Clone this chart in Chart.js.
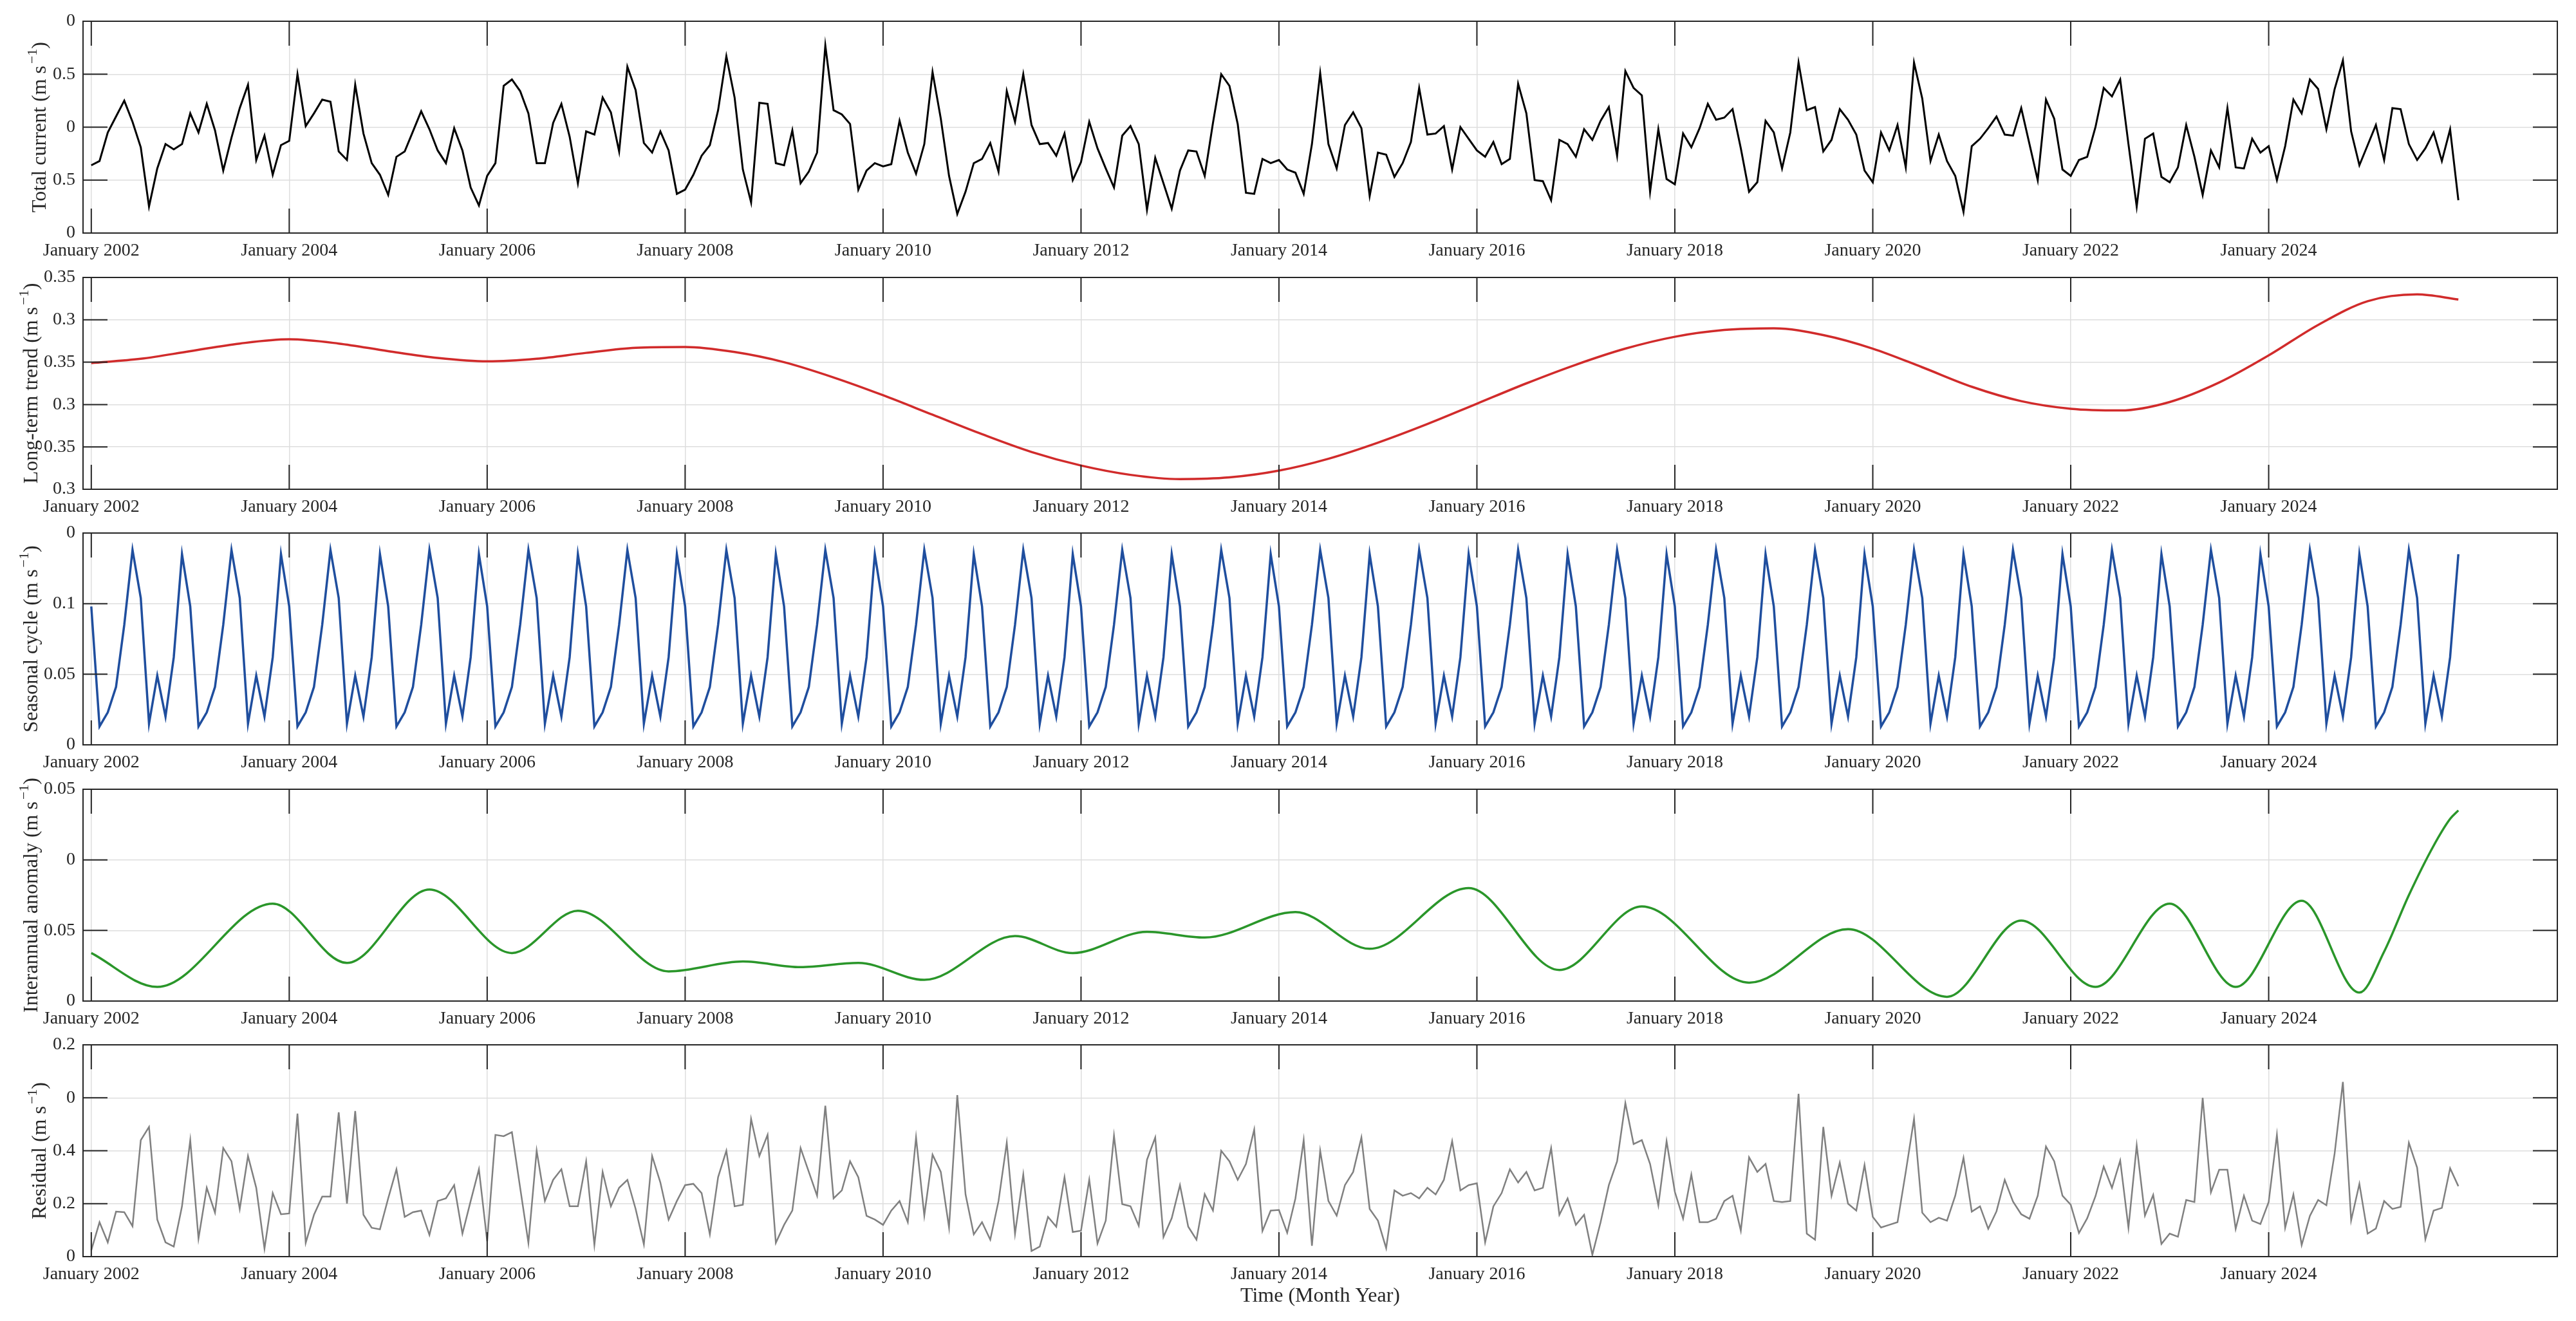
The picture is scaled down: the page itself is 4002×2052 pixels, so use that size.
<!DOCTYPE html>
<html>
<head>
<meta charset="utf-8">
<title>Current decomposition</title>
<script src="https://cdn.jsdelivr.net/npm/chart.js@4.4.1/dist/chart.umd.min.js"></script>
<style>
  html, body { margin: 0; padding: 0; background: #fff; overflow: hidden; }
  #wrap { position: relative; width: 4002px; height: 2052px; }
  canvas { position: absolute; left: 0; }
</style>
</head>
<body>
<div id="wrap">
  <canvas id="c1"></canvas>
  <canvas id="c2"></canvas>
  <canvas id="c3"></canvas>
  <canvas id="c4"></canvas>
  <canvas id="c5"></canvas>
</div>
<script>
// x axis = months since January 2002 (monthly data, Jan 2002 .. Dec 2025)
const xTickMonths = [0, 24, 48, 72, 96, 120, 144, 168, 192, 216, 240, 264];
const xTickLabels = ['January 2002', 'January 2004', 'January 2006', 'January 2008', 'January 2010', 'January 2012',
                     'January 2014', 'January 2016', 'January 2018', 'January 2020', 'January 2022', 'January 2024'];

// total current, one value per month
const currentValues = [
  -0.36,-0.32,-0.05,0.10,0.25,0.05,-0.19,-0.75,-0.39,-0.16,-0.21,-0.16,
  0.13,-0.05,0.22,-0.03,-0.41,-0.10,0.18,0.40,-0.31,-0.08,-0.45,-0.17,
  -0.13,0.50,0.01,0.13,0.26,0.24,-0.23,-0.31,0.40,-0.06,-0.34,-0.45,
  -0.64,-0.28,-0.23,-0.04,0.15,-0.02,-0.22,-0.34,-0.01,-0.22,-0.57,-0.74,
  -0.46,-0.34,0.39,0.45,0.34,0.13,-0.34,-0.34,0.04,0.22,-0.09,-0.53,
  -0.04,-0.07,0.28,0.14,-0.23,0.57,0.35,-0.15,-0.24,-0.04,-0.22,-0.63,
  -0.59,-0.45,-0.27,-0.17,0.16,0.67,0.28,-0.40,-0.71,0.23,0.22,-0.34,
  -0.36,-0.03,-0.53,-0.42,-0.24,0.77,0.16,0.12,0.03,-0.59,-0.41,-0.34,
  -0.37,-0.35,0.06,-0.24,-0.44,-0.16,0.52,0.08,-0.46,-0.82,-0.61,-0.34,
  -0.30,-0.15,-0.42,0.34,0.05,0.50,0.02,-0.16,-0.15,-0.27,-0.06,-0.50,
  -0.33,0.05,-0.20,-0.39,-0.57,-0.08,0.01,-0.16,-0.78,-0.29,-0.53,-0.77,
  -0.41,-0.22,-0.23,-0.46,0.04,0.50,0.39,0.03,-0.62,-0.63,-0.30,-0.34,
  -0.31,-0.40,-0.43,-0.63,-0.16,0.51,-0.16,-0.39,0.02,0.14,-0.01,-0.65,
  -0.24,-0.26,-0.47,-0.34,-0.14,0.37,-0.07,-0.06,0.01,-0.40,0.00,-0.11,
  -0.22,-0.28,-0.14,-0.35,-0.30,0.41,0.13,-0.50,-0.51,-0.69,-0.12,-0.16,
  -0.28,-0.02,-0.12,0.06,0.19,-0.27,0.53,0.37,0.30,-0.61,-0.02,-0.49,
  -0.54,-0.06,-0.19,-0.01,0.22,0.07,0.09,0.17,-0.20,-0.61,-0.52,0.06,
  -0.05,-0.39,-0.05,0.61,0.16,0.19,-0.23,-0.12,0.17,0.07,-0.07,-0.41,
  -0.52,-0.05,-0.22,0.02,-0.38,0.61,0.27,-0.32,-0.07,-0.32,-0.46,-0.80,
  -0.18,-0.11,-0.01,0.10,-0.07,-0.08,0.18,-0.16,-0.50,0.26,0.08,-0.40,
  -0.46,-0.31,-0.28,0.00,0.37,0.29,0.45,-0.16,-0.75,-0.11,-0.06,-0.47,
  -0.52,-0.38,0.02,-0.28,-0.64,-0.22,-0.38,0.18,-0.38,-0.39,-0.11,-0.24,
  -0.18,-0.50,-0.18,0.26,0.13,0.45,0.36,-0.02,0.36,0.63,-0.04,-0.36,
  -0.17,0.02,-0.31,0.18,0.17,-0.16,-0.31,-0.20,-0.05,-0.32,-0.02,-0.69
];

// long-term trend, read every six months
const trendMonths = [0,6,12,18,24,30,36,42,48,54,60,66,72,78,84,90,96,102,108,114,120,126,132,138,
                     144,150,156,162,168,174,180,186,192,198,204,210,216,222,228,234,240,246,252,258,264,270,276,282,287];
const trendValues = [0.249,0.254,0.263,0.272,0.277,0.272,0.263,0.255,0.251,0.254,0.261,0.267,0.268,0.262,0.250,0.232,
                     0.211,0.188,0.165,0.144,0.128,0.117,0.112,0.114,0.122,0.136,0.155,0.177,0.201,0.225,0.247,0.266,
                     0.280,0.288,0.290,0.282,0.266,0.244,0.221,0.204,0.195,0.193,0.203,0.226,0.258,0.294,0.322,0.330,0.324];

// seasonal cycle, one value per month
const seasonalValues = [
  0.098,0.013,0.023,0.041,0.085,0.138,0.104,0.015,0.049,0.020,0.062,0.135,
  0.098,0.013,0.023,0.041,0.085,0.138,0.104,0.015,0.049,0.020,0.062,0.135,
  0.098,0.013,0.023,0.041,0.085,0.138,0.104,0.015,0.049,0.020,0.062,0.135,
  0.098,0.013,0.023,0.041,0.085,0.138,0.104,0.015,0.049,0.020,0.062,0.135,
  0.098,0.013,0.023,0.041,0.085,0.138,0.104,0.015,0.049,0.020,0.062,0.135,
  0.098,0.013,0.023,0.041,0.085,0.138,0.104,0.015,0.049,0.020,0.062,0.135,
  0.098,0.013,0.023,0.041,0.085,0.138,0.104,0.015,0.049,0.020,0.062,0.135,
  0.098,0.013,0.023,0.041,0.085,0.138,0.104,0.015,0.049,0.020,0.062,0.135,
  0.098,0.013,0.023,0.041,0.085,0.138,0.104,0.015,0.049,0.020,0.062,0.135,
  0.098,0.013,0.023,0.041,0.085,0.138,0.104,0.015,0.049,0.020,0.062,0.135,
  0.098,0.013,0.023,0.041,0.085,0.138,0.104,0.015,0.049,0.020,0.062,0.135,
  0.098,0.013,0.023,0.041,0.085,0.138,0.104,0.015,0.049,0.020,0.062,0.135,
  0.098,0.013,0.023,0.041,0.085,0.138,0.104,0.015,0.049,0.020,0.062,0.135,
  0.098,0.013,0.023,0.041,0.085,0.138,0.104,0.015,0.049,0.020,0.062,0.135,
  0.098,0.013,0.023,0.041,0.085,0.138,0.104,0.015,0.049,0.020,0.062,0.135,
  0.098,0.013,0.023,0.041,0.085,0.138,0.104,0.015,0.049,0.020,0.062,0.135,
  0.098,0.013,0.023,0.041,0.085,0.138,0.104,0.015,0.049,0.020,0.062,0.135,
  0.098,0.013,0.023,0.041,0.085,0.138,0.104,0.015,0.049,0.020,0.062,0.135,
  0.098,0.013,0.023,0.041,0.085,0.138,0.104,0.015,0.049,0.020,0.062,0.135,
  0.098,0.013,0.023,0.041,0.085,0.138,0.104,0.015,0.049,0.020,0.062,0.135,
  0.098,0.013,0.023,0.041,0.085,0.138,0.104,0.015,0.049,0.020,0.062,0.135,
  0.098,0.013,0.023,0.041,0.085,0.138,0.104,0.015,0.049,0.020,0.062,0.135,
  0.098,0.013,0.023,0.041,0.085,0.138,0.104,0.015,0.049,0.020,0.062,0.135,
  0.098,0.013,0.023,0.041,0.085,0.138,0.104,0.015,0.049,0.020,0.062,0.135
];

// interannual anomaly, read at turning points (month index, value)
const anomalyMonths = [0,8,22,31,41,51,59,70,79,86,93,101,112,119,128,135,146,155,167,178,188,201,213,225,234,243,252,260,268,275,278,281,284,286,287];
const anomalyValues = [-0.066,-0.090,-0.031,-0.073,-0.021,-0.066,-0.036,-0.079,-0.072,-0.076,-0.073,-0.085,-0.054,-0.066,
                       -0.051,-0.055,-0.037,-0.063,-0.020,-0.078,-0.033,-0.087,-0.049,-0.097,-0.043,-0.090,-0.031,-0.090,
                       -0.029,-0.094,-0.065,-0.025,0.010,0.029,0.035];

// residual, one value per month
const residualValues = [
  0.024,0.13,0.054,0.17,0.168,0.115,0.44,0.49,0.14,0.054,0.038,0.19,
  0.44,0.068,0.26,0.166,0.41,0.36,0.18,0.38,0.26,0.03,0.24,0.16,
  0.163,0.54,0.052,0.158,0.227,0.227,0.545,0.20,0.55,0.158,0.109,0.103,
  0.22,0.33,0.15,0.168,0.174,0.082,0.21,0.22,0.27,0.087,0.21,0.33,
  0.058,0.46,0.455,0.47,0.26,0.052,0.40,0.21,0.29,0.33,0.19,0.19,
  0.36,0.044,0.32,0.19,0.26,0.29,0.18,0.046,0.38,0.28,0.14,0.21,
  0.27,0.275,0.24,0.084,0.30,0.40,0.19,0.196,0.52,0.38,0.46,0.052,
  0.12,0.174,0.41,0.32,0.23,0.57,0.22,0.25,0.36,0.30,0.154,0.14,
  0.12,0.174,0.21,0.13,0.45,0.155,0.385,0.32,0.11,0.61,0.235,0.084,
  0.13,0.064,0.21,0.43,0.086,0.31,0.021,0.038,0.15,0.113,0.30,0.093,
  0.098,0.29,0.05,0.136,0.457,0.198,0.19,0.117,0.366,0.45,0.074,0.145,
  0.27,0.113,0.064,0.236,0.174,0.40,0.36,0.29,0.35,0.48,0.097,0.174,
  0.176,0.09,0.22,0.44,0.041,0.40,0.21,0.155,0.27,0.32,0.45,0.18,
  0.136,0.032,0.25,0.23,0.24,0.22,0.26,0.235,0.29,0.436,0.25,0.27,
  0.277,0.054,0.19,0.24,0.33,0.28,0.32,0.25,0.26,0.41,0.158,0.22,
  0.12,0.158,0.007,0.13,0.27,0.36,0.58,0.425,0.44,0.35,0.194,0.436,
  0.245,0.144,0.31,0.13,0.13,0.143,0.21,0.23,0.098,0.375,0.32,0.35,
  0.21,0.206,0.21,0.615,0.087,0.064,0.49,0.23,0.355,0.20,0.174,0.346,
  0.15,0.11,0.12,0.13,0.32,0.52,0.166,0.13,0.147,0.136,0.23,0.373,
  0.17,0.19,0.105,0.171,0.29,0.208,0.16,0.143,0.23,0.416,0.36,0.23,
  0.196,0.089,0.145,0.228,0.34,0.26,0.363,0.109,0.42,0.155,0.233,0.048,
  0.087,0.075,0.214,0.206,0.60,0.243,0.328,0.328,0.105,0.23,0.136,0.123,
  0.206,0.46,0.109,0.235,0.044,0.154,0.214,0.194,0.39,0.66,0.137,0.275,
  0.087,0.106,0.21,0.18,0.188,0.43,0.336,0.066,0.174,0.184,0.334,0.266
];

// y ticks and the tick texts as printed on the figure
const currentTicks = [-1, -0.5, 0, 0.5, 1];
const currentTickLabels = ['0', '0.5', '0', '0.5', '0'];
const trendTicks = [0.10, 0.15, 0.20, 0.25, 0.30, 0.35];
const trendTickLabels = ['0.3', '0.35', '0.3', '0.35', '0.3', '0.35'];
const seasonalTicks = [0, 0.05, 0.1, 0.15];
const seasonalTickLabels = ['0', '0.05', '0.1', '0'];
const anomalyTicks = [-0.1, -0.05, 0, 0.05];
const anomalyTickLabels = ['0', '0.05', '0', '0.05'];
const residualTicks = [0, 0.2, 0.4, 0.6, 0.8];
const residualTickLabels = ['0', '0.2', '0.4', '0', '0.2'];

const FONT = "'Liberation Serif', 'Times New Roman', Times, serif";
const AXIS_COLOR = '#262626';
const GRID_COLOR = '#dedede';
const PLOT_LEFT = 129, PLOT_RIGHT = 3973, PLOT_H = 329, TOP_PAD = 30, TICK_LEN = 38;

Chart.defaults.font.family = FONT;
Chart.defaults.color = AXIS_COLOR;

function byMonth(values) {
  return values.map((v, i) => ({ x: i, y: v }));
}
function pairs(months, values) {
  return months.map((m, i) => ({ x: m, y: values[i] }));
}

// box, inward ticks (matlab look) and the y title with a superscript unit
const matlabAxes = {
  id: 'matlabAxes',
  afterDraw(chart, args, opts) {
    const { ctx, chartArea: a } = chart;
    const xs = chart.scales.x, ys = chart.scales.y;
    ctx.save();
    ctx.strokeStyle = AXIS_COLOR;
    ctx.lineWidth = 2;
    ctx.beginPath();
    xs.ticks.forEach((t, i) => {
      const px = xs.getPixelForTick(i);
      ctx.moveTo(px, a.bottom); ctx.lineTo(px, a.bottom - TICK_LEN);
      ctx.moveTo(px, a.top); ctx.lineTo(px, a.top + TICK_LEN);
    });
    ys.ticks.forEach((t, i) => {
      const py = ys.getPixelForTick(i);
      ctx.moveTo(a.left, py); ctx.lineTo(a.left + TICK_LEN, py);
      ctx.moveTo(a.right, py); ctx.lineTo(a.right - TICK_LEN, py);
    });
    ctx.stroke();
    ctx.strokeRect(a.left, a.top, a.right - a.left, a.bottom - a.top);

    ctx.translate(opts.baseX, (a.top + a.bottom) / 2);
    ctx.rotate(-Math.PI / 2);
    ctx.fillStyle = AXIS_COLOR;
    ctx.textBaseline = 'alphabetic';
    ctx.textAlign = 'left';
    const mainFont = '32px ' + FONT, supFont = '22px ' + FONT;
    ctx.font = mainFont;
    const w1 = ctx.measureText(opts.title).width;
    const w3 = ctx.measureText(')').width;
    ctx.font = supFont;
    const w2 = ctx.measureText('\u22121').width;
    const gap = 3;
    const u = -(w1 + gap + w2 + w3) / 2;
    ctx.font = mainFont;
    ctx.fillText(opts.title, u, 0);
    ctx.font = supFont;
    ctx.fillText('\u22121', u + w1 + gap, -14);
    ctx.font = mainFont;
    ctx.fillText(')', u + w1 + gap + w2, 0);
    ctx.restore();
  }
};

function makePanel(p) {
  const canvas = document.getElementById(p.id);
  canvas.width = 4002;
  canvas.height = p.height;
  canvas.style.width = '4002px';
  canvas.style.height = p.height + 'px';
  canvas.style.top = (p.top - TOP_PAD) + 'px';

  new Chart(canvas, {
    type: 'line',
    data: {
      datasets: [{
        data: p.points,
        borderColor: p.color,
        borderWidth: p.lineWidth,
        pointRadius: 0,
        fill: false,
        cubicInterpolationMode: p.smooth ? 'monotone' : 'default'
      }]
    },
    options: {
      responsive: false,
      animation: false,
      devicePixelRatio: 1,
      layout: { padding: { left: 0, top: TOP_PAD, right: 4002 - PLOT_RIGHT, bottom: 0 } },
      plugins: {
        legend: { display: false },
        tooltip: { enabled: false },
        matlabAxes: { title: p.title, baseX: p.titleX }
      },
      scales: {
        x: {
          type: 'linear',
          min: -1,
          max: 299,
          afterBuildTicks: s => { s.ticks = xTickMonths.map(v => ({ value: v })); },
          afterFit: s => { s.height = p.height - TOP_PAD - PLOT_H; },
          ticks: {
            autoSkip: false, maxRotation: 0, padding: 11, color: AXIS_COLOR,
            font: { size: 28 },
            callback: (v, i) => xTickLabels[i]
          },
          grid: { color: GRID_COLOR, lineWidth: 1.5, drawTicks: false },
          border: { display: false },
          title: p.xTitle
            ? { display: true, text: p.xTitle, color: AXIS_COLOR, font: { size: 32 }, padding: { top: 0, bottom: 19 } }
            : { display: false }
        },
        y: {
          min: p.yTicks[0],
          max: p.yTicks[p.yTicks.length - 1],
          afterBuildTicks: s => { s.ticks = p.yTicks.map(v => ({ value: v })); },
          afterFit: s => { s.width = PLOT_LEFT; },
          ticks: {
            padding: 12, color: AXIS_COLOR,
            font: { size: 28 },
            callback: (v, i) => p.yLabels[i]
          },
          grid: { color: GRID_COLOR, lineWidth: 1.5, drawTicks: false },
          border: { display: false }
        }
      }
    },
    plugins: [matlabAxes]
  });
}

makePanel({ id: 'c1', top: 33, height: 425, points: byMonth(currentValues), color: '#000000', lineWidth: 3,
  yTicks: currentTicks, yLabels: currentTickLabels, title: 'Total current (m s', titleX: 71 });
makePanel({ id: 'c2', top: 431, height: 425, points: pairs(trendMonths, trendValues), color: '#d12b2b', lineWidth: 3.5, smooth: true,
  yTicks: trendTicks, yLabels: trendTickLabels, title: 'Long-term trend (m s', titleX: 58 });
makePanel({ id: 'c3', top: 828, height: 425, points: byMonth(seasonalValues), color: '#1f4e9e', lineWidth: 3.5,
  yTicks: seasonalTicks, yLabels: seasonalTickLabels, title: 'Seasonal cycle (m s', titleX: 58 });
makePanel({ id: 'c4', top: 1226, height: 425, points: pairs(anomalyMonths, anomalyValues), color: '#2a962a', lineWidth: 3.5, smooth: true,
  yTicks: anomalyTicks, yLabels: anomalyTickLabels, title: 'Interannual anomaly (m s', titleX: 58 });
makePanel({ id: 'c5', top: 1623, height: 459, points: byMonth(residualValues), color: '#808080', lineWidth: 2.5,
  yTicks: residualTicks, yLabels: residualTickLabels, title: 'Residual (m s', titleX: 71, xTitle: 'Time (Month Year)' });
</script>
</body>
</html>
